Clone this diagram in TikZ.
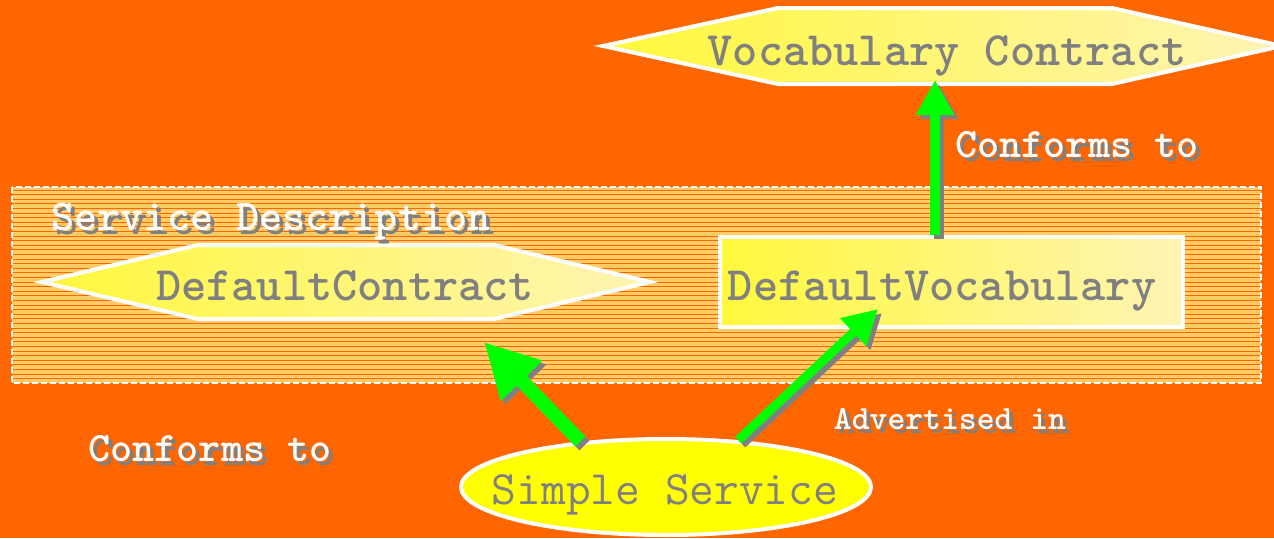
\documentclass[tikz,border=0pt]{standalone}
\usetikzlibrary{arrows.meta,shapes.geometric}
\definecolor{bgor}{HTML}{FF6600}
\definecolor{bandfill}{HTML}{FFCC66}
\definecolor{txtgray}{HTML}{808080}
\definecolor{grn}{HTML}{00FF00}
\definecolor{ylA}{HTML}{FFF83C}
\definecolor{ylB}{HTML}{FFF4B4}
\definecolor{ssyel}{HTML}{FFFF00}
\begin{document}
\begin{tikzpicture}[x=1pt,y=-1pt,
  hexfill/.style={draw=white, line width=4pt, line join=miter, left color=ylA, right color=ylB},
  boxfill/.style={draw=white, line width=4pt, left color=ylA, right color=ylB, rectangle, inner sep=0pt, minimum width=463pt, minimum height=90pt},
  ellfill/.style={draw=white, line width=4pt, fill=ssyel, ellipse, inner sep=0pt, minimum width=410pt, minimum height=96pt},
  maintext/.style={text=txtgray, font=\fontsize{48}{48}\selectfont\ttfamily\bfseries, inner sep=0pt, anchor=base},
  plaintext/.style={text=txtgray, font=\fontsize{48}{48}\selectfont\ttfamily, inner sep=0pt, anchor=base},
  lbl/.style={text=white, font=\fontsize{#1}{#1}\selectfont\ttfamily\bfseries, inner sep=0pt, anchor=base},
  lblsh/.style={lbl=#1, text=txtgray},
  stripe/.style={draw=bgor, line width=1pt},
  bandborder/.style={draw=white, line width=1.5pt, dash pattern=on 6pt off 3pt},
  arrowbig/.style={line width=14pt, -{Triangle[length=54pt,width=54pt]}},
  arrowthin/.style={line width=9pt, -{Triangle[length=34pt,width=36pt]}},
  arrowup/.style={line width=10pt, -{Triangle[length=35pt,width=36pt]}},
  grnarrow/.style={draw=grn, fill=grn},
  shadowarrow/.style={draw=txtgray, fill=txtgray, transform canvas={xshift=4pt,yshift=-4pt}}
]
\useasboundingbox (0,0) rectangle (1274,538);
\clip (0,0) rectangle (1274,538);
\fill[bgor] (0,0) rectangle (1274,538);

% Service Description band
\fill[bandfill] (12,187) rectangle (1261,383);
\foreach \yy in {190,194.6,...,382} \draw[stripe] (12,\yy) -- (1261,\yy);
\draw[bandborder] (12,187) rectangle (1261,383);

% Vocabulary Contract hexagon
\draw[hexfill] (603,46) -- (778,8) -- (1112,8) -- (1282,46) -- (1112,84) -- (778,84) -- cycle;
\node[maintext] (vct) at (947,65) {Vocabulary Contract};
\coordinate (vcT) at (935,80);

% DefaultContract hexagon
\draw[hexfill] (42,282) -- (198,245) -- (494,245) -- (650,282) -- (494,319) -- (198,319) -- cycle;
\node[maintext] (dct) at (345,300) {DefaultContract};
\coordinate (dcT) at (484,342);

% DefaultVocabulary box
\node[boxfill] (dv) at (951.5,282) {};
\node[maintext] (dvt) at (942,300) {DefaultVocabulary};
\coordinate (dvT) at (878,309);

% Simple Service ellipse
\node[ellfill] (ss) at (666,487) {};
\node[plaintext] (sst) at (665,504) {Simple Service};

% arrows: shadows then green
\draw[shadowarrow, arrowup] (dv.north -| vcT) -- (vcT);
\draw[grnarrow, arrowup] (dv.north -| vcT) -- (vcT);
\draw[shadowarrow, arrowbig] (ss.152) -- (dcT);
\draw[grnarrow, arrowbig] (ss.152) -- (dcT);
\draw[shadowarrow, arrowthin] (ss.33) -- (dvT);
\draw[grnarrow, arrowthin] (ss.33) -- (dvT);

% labels with shadows
\node[lblsh=44] (sds) at (275,234) {Service Description};
\node[lbl=44] (sd) at (271,230) {Service Description};
\node[lblsh=42] (cf1s) at (1081,161) {Conforms to};
\node[lbl=42] (cf1) at (1077,157) {Conforms to};
\node[lblsh=42] (cf2s) at (214,465) {Conforms to};
\node[lbl=42] (cf2) at (210,461) {Conforms to};
\node[lblsh=34] (advs) at (954,433) {Advertised in};
\node[lbl=34] (adv) at (950,429) {Advertised in};
\end{tikzpicture}
\end{document}
